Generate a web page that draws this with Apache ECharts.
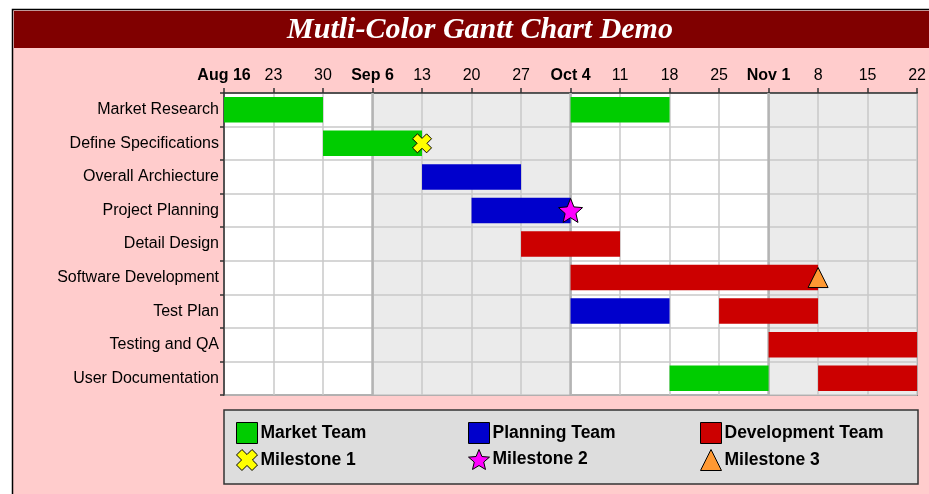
<!DOCTYPE html>
<html>
<head>
<meta charset="utf-8">
<script src="https://cdn.jsdelivr.net/npm/echarts@6/dist/echarts.min.js"></script>
<style>
html,body{margin:0;padding:0;background:#fff;}
#chart{width:929px;height:494px;}
</style>
</head>
<body>
<div id="chart"></div>
<script>
// ---- Data ----
const chartStart = "2004-08-16";
const chartEnd = "2004-11-22";
const tasks = ["Market Research", "Define Specifications", "Overall Archiecture", "Project Planning",
  "Detail Design", "Software Development", "Test Plan", "Testing and QA", "User Documentation"];
const teams = ["Market Team", "Planning Team", "Development Team"];
const teamColors = ["#00cc00", "#0000cc", "#cc0000"];
const barTask = [0, 0, 1, 2, 3, 4, 5, 6, 6, 7, 8, 8];
const barTeam = [0, 0, 0, 1, 1, 2, 2, 1, 2, 2, 0, 2];
const barStart = ["2004-08-16", "2004-10-04", "2004-08-30", "2004-09-13", "2004-09-20", "2004-09-27",
  "2004-10-04", "2004-10-04", "2004-10-25", "2004-11-01", "2004-10-18", "2004-11-08"];
const barEnd = ["2004-08-30", "2004-10-18", "2004-09-13", "2004-09-27", "2004-10-04", "2004-10-11",
  "2004-11-08", "2004-10-18", "2004-11-08", "2004-11-22", "2004-11-01", "2004-11-22"];
const milestoneNames = ["Milestone 1", "Milestone 2", "Milestone 3"];
const milestoneDates = ["2004-09-13", "2004-10-04", "2004-11-08"];
const milestoneTask = [1, 3, 5];
const tickLabels = ["Aug 16", "23", "30", "Sep 6", "13", "20", "27", "Oct 4", "11", "18", "25", "Nov 1", "8", "15", "22"];
const monthStarts = ["2004-09-06", "2004-10-04", "2004-11-01"];
const shadedStart = ["2004-09-06", "2004-11-01"];
const shadedEnd = ["2004-10-04", "2004-11-22"];

// ---- helpers ----
const DAY = 86400000;
function dayOf(s) { return Math.round((Date.parse(s + "T00:00:00Z") - Date.parse(chartStart + "T00:00:00Z")) / DAY); }
const totalDays = dayOf(chartEnd);

const FONT = "'Liberation Sans', Arial, sans-serif";

const milestoneSymbols = [
  "path://M0,2.6L2.6,0L5,2.4L7.4,0L10,2.6L7.6,5L10,7.4L7.4,10L5,7.6L2.6,10L0,7.4L2.4,5Z",
  "path://M10,0L12.65,6.36L19.51,6.91L14.28,11.39L15.88,18.09L10,14.5L4.12,18.09L5.72,11.39L0.49,6.91L7.35,6.36Z",
  "triangle"
];
const milestoneSizes = [19, 24, 20];
const milestoneColors = ["#ffff00", "#ff00ff", "#ff9933"];

const series = [];
// shaded month bands
series.push({
  type: 'custom', z: 1, silent: true,
  data: shadedStart.map((s, i) => [dayOf(s), dayOf(shadedEnd[i])]),
  encode: { x: [0, 1] },
  renderItem: function (params, api) {
    const cs = params.coordSys;
    const x0 = api.coord([api.value(0), 0])[0];
    const x1 = api.coord([api.value(1), 0])[0];
    return { type: 'rect', shape: { x: x0, y: cs.y, width: x1 - x0, height: cs.height }, style: { fill: '#ebebeb' } };
  }
});
// month boundary lines
series.push({
  type: 'custom', z: 3, silent: true,
  data: monthStarts.map(s => [dayOf(s)]),
  encode: { x: 0 },
  renderItem: function (params, api) {
    const cs = params.coordSys;
    const x = api.coord([api.value(0), 0])[0];
    return { type: 'line', shape: { x1: x, y1: cs.y, x2: x, y2: cs.y + cs.height }, style: { stroke: '#b4b4b4', lineWidth: 2.5 } };
  }
});
// bars per team
teams.forEach((team, t) => {
  const data = [];
  barTask.forEach((task, i) => { if (barTeam[i] === t) data.push([task, dayOf(barStart[i]), dayOf(barEnd[i])]); });
  series.push({
    name: team, type: 'custom', z: 4,
    itemStyle: { color: teamColors[t] },
    data: data,
    encode: { y: 0, x: [1, 2] },
    renderItem: function (params, api) {
      const y = api.value(0);
      const p0 = api.coord([api.value(1), y]);
      const p1 = api.coord([api.value(2), y]);
      const h = api.size([0, 1])[1] * 0.76;
      return { type: 'rect', shape: { x: p0[0], y: p0[1] - h / 2, width: p1[0] - p0[0], height: h }, style: { fill: api.visual('color') } };
    }
  });
});
// milestones
milestoneNames.forEach((m, i) => {
  series.push({
    name: m, type: 'scatter', z: 5,
    symbol: milestoneSymbols[i], symbolSize: milestoneSizes[i],
    itemStyle: { color: milestoneColors[i], borderColor: '#000', borderWidth: 1, opacity: 1 },
    data: [[dayOf(milestoneDates[i]), milestoneTask[i]]]
  });
});

function legendCol(left, names) {
  return {
    left: left, top: 422, orient: 'vertical', itemWidth: 21, itemHeight: 21, itemGap: 5, padding: 0,
    data: names.map(n => teams.indexOf(n) >= 0 ? { name: n, icon: 'rect' } : { name: n }),
    itemStyle: { borderColor: '#000', borderWidth: 1 },
    textStyle: { fontFamily: FONT, fontSize: 17.5, fontWeight: 'bold', color: '#000', padding: [0, 0, 0, -2] }
  };
}

const option = {
  animation: false,
  backgroundColor: 'transparent',
  graphic: [
    { type: 'rect', z: -10, shape: { x: 12.5, y: 9.5, width: 940, height: 500 }, style: { fill: '#ffcccc', stroke: '#000', lineWidth: 1.5 } },
    { type: 'rect', z: -9, shape: { x: 14, y: 11, width: 940, height: 37 }, style: { fill: '#800000' } },
    { type: 'text', z: -8, x: 480, y: 30, style: { text: 'Mutli-Color Gantt Chart Demo', fill: '#fff', font: "italic bold 30px 'Liberation Serif', 'Times New Roman', serif", textAlign: 'center', textVerticalAlign: 'middle' } },
    { type: 'rect', z: -8, shape: { x: 224, y: 410, width: 694, height: 74 }, style: { fill: '#dddddd', stroke: '#333', lineWidth: 1.5 } }
  ],
  grid: { left: 224, top: 93, width: 694, height: 302, show: true, backgroundColor: '#fff', borderColor: '#444', borderWidth: 1.5 },
  legend: [legendCol(236, [teams[0], milestoneNames[0]]), legendCol(468, [teams[1], milestoneNames[1]]), legendCol(700, [teams[2], milestoneNames[2]])],
  xAxis: {
    type: 'value', position: 'top', min: 0, max: totalDays, interval: 7, z: 2,
    axisLine: { show: true, lineStyle: { color: '#333', width: 1.5 } },
    axisTick: { show: true, length: 5, lineStyle: { color: '#333', width: 1.5 } },
    splitLine: { show: true, lineStyle: { color: '#c8c8c8', width: 1.5 } },
    axisLabel: {
      margin: 9, showMinLabel: true, showMaxLabel: true,
      formatter: function (v) {
        const i = Math.round(v / 7);
        const lab = tickLabels[i] || '';
        return /[A-Za-z]/.test(lab) ? '{b|' + lab + '}' : '{n|' + lab + '}';
      },
      rich: {
        b: { fontFamily: FONT, fontSize: 16, fontWeight: 'bold', color: '#000' },
        n: { fontFamily: FONT, fontSize: 16, color: '#000' }
      }
    }
  },
  yAxis: {
    type: 'category', inverse: true, data: tasks, z: 2,
    axisLine: { show: true, lineStyle: { color: '#333', width: 1.5 } },
    axisTick: { show: true, length: 4, lineStyle: { color: '#333', width: 1.5 } },
    splitLine: { show: true, lineStyle: { color: '#c8c8c8', width: 1.5 } },
    axisLabel: { margin: 5, fontFamily: FONT, fontSize: 16, color: '#000' }
  },
  series: series
};

const chart = echarts.init(document.getElementById('chart'), null, { renderer: 'canvas' });
chart.setOption(option);
</script>
</body>
</html>
